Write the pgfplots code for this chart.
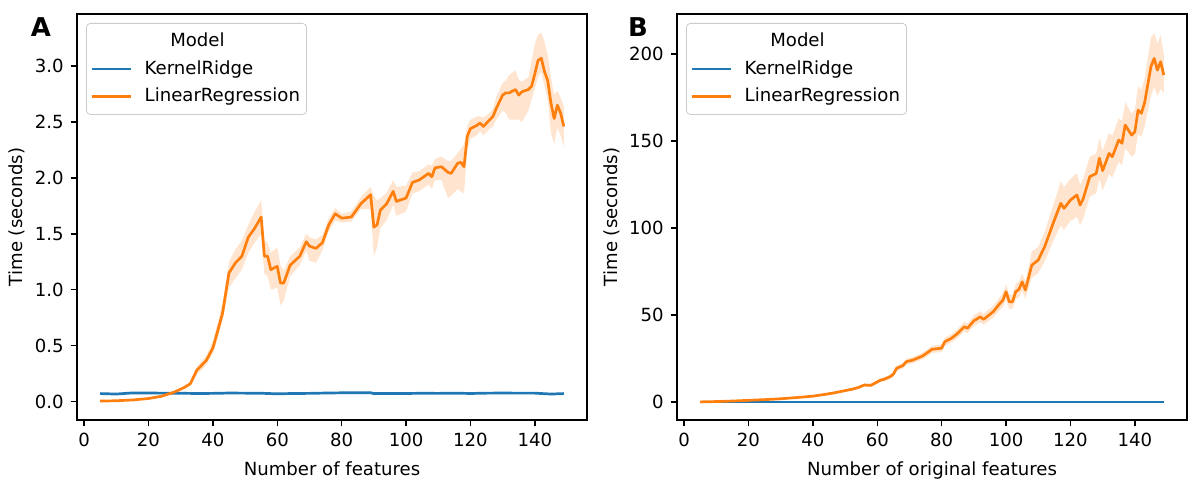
\documentclass[border=0pt]{standalone}
\usepackage{fontspec}
\setmainfont{DejaVu Sans}
\usepackage{pgfplots}
\usepackage{pgfplotstable}
\pgfplotsset{compat=1.18}
\usepgfplotslibrary{fillbetween}
\definecolor{tabblue}{HTML}{1F77B4}
\definecolor{taborange}{HTML}{FF7F0E}
\newcommand\fs{\fontsize{9.05bp}{11bp}\selectfont}

\pgfplotstableread{
x y lo hi
5 0.005 0.003 0.007
10 0.008 0.006 0.010
15 0.015 0.012 0.018
20 0.028 0.024 0.032
24 0.048 0.043 0.053
28 0.085 0.078 0.092
31 0.125 0.115 0.135
33 0.160 0.148 0.172
35 0.28 0.24 0.31
37 0.34 0.30 0.38
38 0.37 0.33 0.41
40 0.48 0.43 0.54
41 0.58 0.52 0.65
43 0.79 0.72 0.88
45 1.15 1.02 1.25
47 1.24 1.10 1.36
49 1.30 1.18 1.44
51 1.47 1.33 1.58
53 1.55 1.42 1.70
55 1.65 1.50 1.80
56 1.30 1.14 1.45
57 1.30 1.12 1.42
58 1.18 1.00 1.33
60 1.21 1.02 1.38
61 1.06 0.86 1.22
62 1.06 0.90 1.17
64 1.22 1.12 1.30
67 1.30 1.22 1.38
69 1.43 1.35 1.50
70 1.39 1.26 1.47
72 1.37 1.24 1.45
74 1.42 1.35 1.49
76 1.58 1.52 1.64
78 1.68 1.62 1.73
80 1.64 1.60 1.68
83 1.65 1.61 1.70
86 1.77 1.72 1.83
89 1.85 1.72 1.92
90 1.56 1.30 1.84
91 1.58 1.38 1.80
92 1.71 1.55 1.82
94 1.77 1.62 1.87
96 1.88 1.76 1.98
97 1.79 1.66 1.92
100 1.82 1.70 1.93
102 1.96 1.86 2.05
104 1.98 1.88 2.06
107 2.04 1.94 2.12
108 2.01 1.90 2.11
109 2.09 1.98 2.17
111 2.10 1.98 2.19
113 2.05 1.82 2.15
114 2.04 1.84 2.15
116 2.13 1.90 2.22
117 2.14 1.88 2.26
118 2.10 1.86 2.30
119 2.37 2.25 2.46
120 2.44 2.35 2.52
122 2.47 2.38 2.55
123 2.49 2.42 2.55
124 2.46 2.38 2.54
126 2.52 2.44 2.58
127 2.55 2.46 2.62
128 2.62 2.52 2.72
130 2.74 2.60 2.85
131 2.76 2.58 2.87
132 2.76 2.52 2.92
134 2.79 2.52 2.96
135 2.74 2.52 2.88
136 2.77 2.50 2.86
138 2.79 2.60 2.90
139 2.82 2.70 3.05
140 2.93 2.80 3.20
141 3.05 2.90 3.28
142 3.07 2.95 3.30
143 2.95 2.82 3.22
144 2.87 2.70 3.10
145 2.67 2.40 2.90
146 2.53 2.30 2.74
147 2.65 2.45 2.78
148 2.58 2.38 2.72
149 2.46 2.28 2.64
}\lrA

\pgfplotstableread{
x y
5 0.072
10 0.068
15 0.078
20 0.077
25 0.076
30 0.075
35 0.073
40 0.074
45 0.077
50 0.076
55 0.075
60 0.070
65 0.073
70 0.074
75 0.077
80 0.079
85 0.079
89 0.080
90 0.072
95 0.073
100 0.073
105 0.075
110 0.074
115 0.076
120 0.073
125 0.076
130 0.077
135 0.076
140 0.076
145 0.068
149 0.072
}\krA

\pgfplotstableread{
x y lo hi
5 0.1 0.05 0.15
10 0.3 0.2 0.4
15 0.6 0.5 0.7
20 1.0 0.8 1.2
25 1.4 1.2 1.6
30 1.9 1.6 2.2
35 2.6 2.3 2.9
40 3.4 3.0 3.8
43 4.2 3.8 4.6
46 5.1 4.6 5.6
49 6.2 5.6 6.8
52 7.3 6.6 8.0
54 8.3 7.5 9.1
56 9.8 8.9 10.7
58 9.6 8.7 10.5
61 12.6 11.5 13.7
62 13.0 11.9 14.1
64 14.6 13.3 15.9
65 16.0 14.5 17.5
66 19.4 17.9 20.9
68 21.0 19.4 22.6
69 23.2 21.5 24.9
71 24.1 22.3 25.9
74 26.4 24.5 28.3
77 30.3 28.2 32.4
80 31.0 28.8 33.2
81 34.7 32.4 37.0
83 36.6 34.2 39.0
85 39.5 36.9 42.1
87 43.3 40.5 46.1
88 42.4 39.6 45.2
90 46.7 43.6 49.8
92 49.0 45.8 52.2
93 47.5 44.4 50.6
96 51.9 48.5 55.3
98 56.5 52.8 60.2
99 58.5 54.5 62.5
100 63.4 59.0 67.8
101 57.6 53.5 61.7
102 57.6 53.5 61.7
103 63.4 59.0 67.8
104 64.8 60.2 69.4
105 69.1 64.2 74.0
106 64.4 59.5 69.3
108 78.7 71.5 86.5
110 81.6 74.0 89.2
111 85.5 77.5 93.5
112 89.3 80.8 97.8
115 104.6 94.0 115.2
117 114.2 101.5 126.9
118 111.3 99.0 123.6
120 116.1 104.0 128.2
122 119.0 106.5 131.5
123 113.2 101.5 124.9
124 117.1 105.5 128.7
126 129.5 118.0 141.0
128 131.4 120.0 142.8
129 140.1 128.5 151.7
130 133.0 121.5 144.5
132 142.9 131.0 154.8
133 141.0 129.0 153.0
135 150.6 138.0 163.2
136 148.7 136.0 161.4
137 159.2 146.0 172.4
138 156.3 143.5 169.1
139 153.4 141.0 165.8
140 155.3 142.5 168.1
141 167.8 154.0 181.6
142 165.9 152.5 179.3
143 171.7 158.0 185.4
145 192.7 176.0 209.4
146 197.5 181.0 212.0
147 190.8 176.0 206.0
148 195.6 180.0 211.0
149 187.9 177.5 200.0
}\lrB

\pgfplotstableread{
x y
5 0.07
50 0.07
100 0.07
149 0.07
}\krB

\pgfplotsset{
  panel/.style={
    scale only axis, width=255bp, height=203bp,
    xmin=-2.2, xmax=156.2,
    xtick={0,20,...,140},
    axis line style={line width=0.72bp},
    every tick/.style={line width=0.72bp, black},
    major tick length=3.2bp,
    tick align=outside,
    xtick pos=bottom, ytick pos=left,
    tick label style={font=\fs},
    /pgf/number format/assume math mode=true,
    label style={font=\fs},
    xlabel style={at={(axis description cs:0.5,-0.1355)}, anchor=base},
    legend cell align=left,
    legend style={at={(0,1)}, anchor=north west, xshift=4.5bp, yshift=-4.5bp,
      draw=black!20, rounded corners=2bp, fill=white, fill opacity=0.8, text opacity=1,
      font=\fs, inner xsep=2bp, inner ysep=3.5bp, row sep=2.8bp,
      nodes={inner sep=1.3bp}},
    legend image code/.code={\draw[##1] (0bp,0bp) -- (19.5bp,0bp); \path (24.5bp,0bp);},
  },
  mainline/.style={line width=1.35bp, line join=round},
}

\begin{document}
\begin{tikzpicture}
\begin{axis}[panel,
  ymin=-0.164, ymax=3.465,
  ytick={0,0.5,...,3.0},
  yticklabel style={/pgf/number format/.cd, fixed, fixed zerofill, precision=1},
  xlabel={Number of features},
  ylabel={Time (seconds)},
  ylabel style={at={(axis description cs:-0.1069,0.5)}, anchor=base},
]
\addlegendimage{empty legend}
\addlegendentry{\hspace*{12.8bp}Model}
\addplot[tabblue, mainline] table[x=x, y=y] {\krA};
\addlegendentry{KernelRidge}
\addplot[name path=ahi, draw=none, forget plot] table[x=x, y=hi] {\lrA};
\addplot[name path=alo, draw=none, forget plot] table[x=x, y=lo] {\lrA};
\addplot[taborange, fill opacity=0.2, draw=none, forget plot] fill between[of=ahi and alo];
\addplot[taborange, mainline] table[x=x, y=y] {\lrA};
\addlegendentry{LinearRegression}
\end{axis}
\begin{axis}[panel, at={(300bp,0bp)},
  ymin=-10.3, ymax=223,
  ytick={0,50,...,200},
  xlabel={Number of original features},
  ylabel={Time (seconds)},
  ylabel style={at={(axis description cs:-0.1176,0.5)}, anchor=base},
]
\addlegendimage{empty legend}
\addlegendentry{\hspace*{12.8bp}Model}
\addplot[tabblue, mainline] table[x=x, y=y] {\krB};
\addlegendentry{KernelRidge}
\addplot[name path=bhi, draw=none, forget plot] table[x=x, y=hi] {\lrB};
\addplot[name path=blo, draw=none, forget plot] table[x=x, y=lo] {\lrB};
\addplot[taborange, fill opacity=0.2, draw=none, forget plot] fill between[of=bhi and blo];
\addplot[taborange, mainline] table[x=x, y=y] {\lrB};
\addlegendentry{LinearRegression}
\end{axis}
\node[font=\bfseries\fontsize{13}{15}\selectfont] at (-18bp,196.25bp) {A};
\node[font=\bfseries\fontsize{13}{15}\selectfont] at (280.5bp,196.25bp) {B};
\pgfresetboundingbox
\path (-38.5bp,-33.5bp) rectangle (561.5bp,210bp);
\end{tikzpicture}
\end{document}
